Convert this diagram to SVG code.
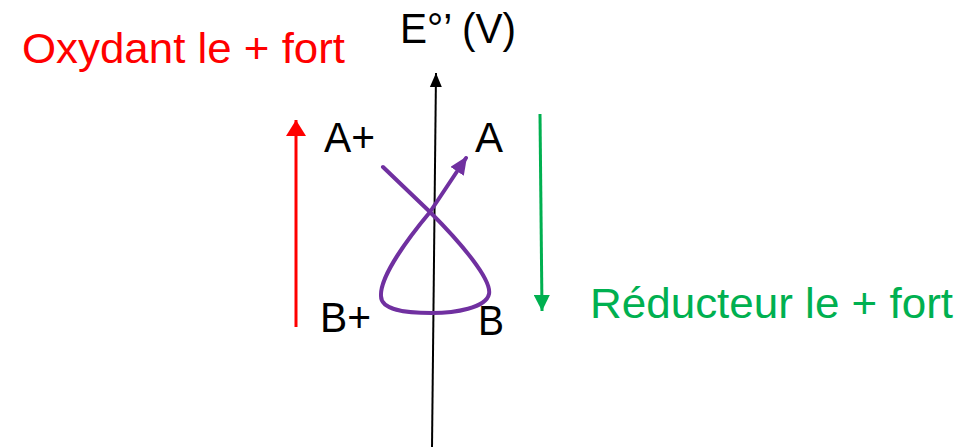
<svg xmlns="http://www.w3.org/2000/svg" width="967" height="447" viewBox="0 0 967 447">
<style>
text{font-family:"Liberation Sans",Arial,sans-serif;font-size:42px}
.blk{fill:#000}
</style>
<defs>
<marker id="hk" markerWidth="14" markerHeight="16" refX="14" refY="6" orient="auto" markerUnits="userSpaceOnUse" viewBox="0 0 14 12"><path d="M0,0 L14,6 L0,12 Z" fill="#000"/></marker>
<marker id="hr" markerWidth="16" markerHeight="20" refX="16" refY="10" orient="auto" markerUnits="userSpaceOnUse" viewBox="0 0 16 20"><path d="M0,0 L16,10 L0,20 Z" fill="#FF0000"/></marker>
<marker id="hg" markerWidth="16" markerHeight="16" refX="16" refY="8" orient="auto" markerUnits="userSpaceOnUse" viewBox="0 0 16 16"><path d="M0,0 L16,8 L0,16 Z" fill="#00B050"/></marker>
<marker id="hp" markerWidth="18" markerHeight="16" refX="16" refY="8" orient="auto" markerUnits="userSpaceOnUse" viewBox="0 0 18 16"><path d="M0,0 L18,8 L0,16 Z" fill="#7030A0"/></marker>
</defs>
<rect width="967" height="447" fill="#fff"/>
<g id="labels">
<text x="22" y="63" fill="#FF0000" textLength="323" lengthAdjust="spacingAndGlyphs">Oxydant le + fort</text>
<text x="400" y="43" class="blk" textLength="116" lengthAdjust="spacingAndGlyphs">E°’ (V)</text>
<text x="590" y="318" fill="#00B050" textLength="363" lengthAdjust="spacingAndGlyphs">Réducteur le + fort</text>
</g>
<g id="node-Aplus"><text x="324" y="152" class="blk" textLength="51" lengthAdjust="spacingAndGlyphs">A+</text></g>
<g id="node-A"><text x="475" y="152" class="blk" textLength="28" lengthAdjust="spacingAndGlyphs">A</text></g>
<g id="node-Bplus"><text x="320" y="332" class="blk" textLength="51" lengthAdjust="spacingAndGlyphs">B+</text></g>
<g id="node-B"><text x="478" y="335" class="blk" textLength="26" lengthAdjust="spacingAndGlyphs">B</text></g>
<g id="connectors" fill="none">
<line x1="432" y1="447" x2="436" y2="73" stroke="#000" stroke-width="2" marker-end="url(#hk)"/>
<line x1="296" y1="327" x2="296" y2="120" stroke="#FF0000" stroke-width="3" marker-end="url(#hr)"/>
<line x1="540" y1="114" x2="542" y2="311" stroke="#00B050" stroke-width="3" marker-end="url(#hg)"/>
<path d="M383,167 L430,212 C462,244 492,280 489,294 C486,308 455,313 432,313 C405,313 381,310 381,296 C380,280 400,248 430,212 L466,158" stroke="#7030A0" stroke-width="4" stroke-linecap="round" stroke-linejoin="round" marker-end="url(#hp)"/>
</g>
</svg>
